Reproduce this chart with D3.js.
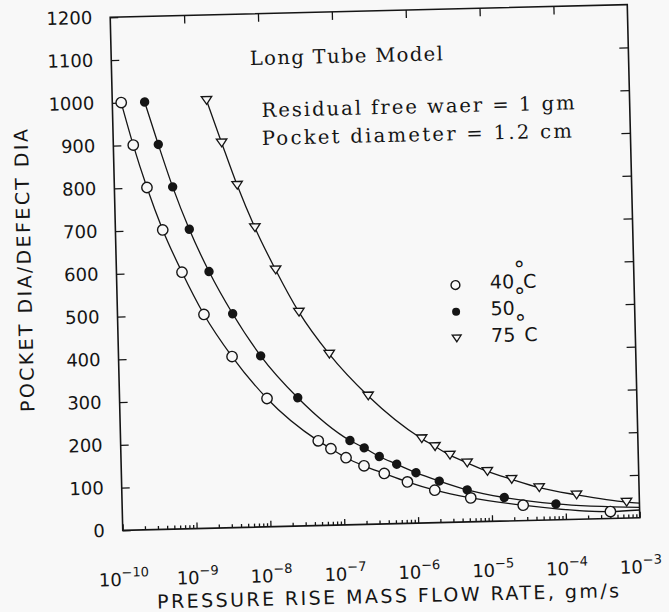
<!DOCTYPE html>
<html><head><meta charset="utf-8">
<script src="https://cdn.jsdelivr.net/npm/d3@7"></script>
<style>html,body{margin:0;padding:0;background:#f8f8f8;} svg{display:block}</style>
</head><body>
<script>
// ---- data ----
const seriesLabels = ["40", "50", "75"];
const flow40  = [1.32e-10,1.86e-10,2.76e-10,4.37e-10,7.71e-10,1.48e-9,3.44e-9,9.9e-9,4.73e-8,6.98e-8,1.11e-7,1.93e-7,3.61e-7,7.38e-7,1.72e-6,5.24e-6,2.67e-5,4.02e-4];
const ratio40 = [1000,900,800,700,600,500,400,300,198,179,157,137,118,97,76,56,36,16];
const flow50  = [2.74e-10,4.06e-10,6.15e-10,1.00e-9,1.79e-9,3.62e-9,8.39e-9,2.58e-8,1.27e-7,1.97e-7,3.13e-7,5.35e-7,9.68e-7,1.99e-6,4.72e-6,1.49e-5,7.41e-5];
const ratio50 = [1000,900,800,700,600,500,400,300,197,179,158,139,118,97,75,55,37];
const flow75  = [1.89e-9,2.93e-9,4.60e-9,7.74e-9,1.43e-8,2.86e-8,7.13e-8,2.32e-7,1.19e-6,1.79e-6,2.83e-6,4.82e-6,8.99e-6,1.90e-5,4.46e-5,1.42e-4,6.71e-4];
const ratio75 = [1000,900,800,700,600,500,400,300,197,178,157,138,117,97,76,57,37];
const lineEndFlow = 1e-3;
const lineEndRatio = [18, 24, 34];
const yTickValues = [0,100,200,300,400,500,600,700,800,900,1000,1100,1200];
const xTickExponents = [-10,-9,-8,-7,-6,-5,-4,-3];
const xTitle = "PRESSURE RISE MASS FLOW RATE, gm/s";
const yTitle = "POCKET DIA/DEFECT DIA";
const notes = ["Long Tube Model", "Residual free waer = 1 gm", "Pocket diameter = 1.2 cm"];

// ---- layout ----
const W = 669, H = 612, BG = "#f8f8f8", INK = "#151515";
const L = 116.4, R = 633.6, T = 10.9, B = 524.1;
const svg = d3.select("body").append("svg").attr("width", W).attr("height", H);
svg.append("rect").attr("width", W).attr("height", H).attr("fill", BG);
const g = svg.append("g").attr("transform", "rotate(-1.4,375,267.5)");

const x = d3.scaleLog().domain([1e-10, 1e-3]).range([L, R]);
const y = d3.scaleLinear().domain([0, 1200]).range([B, T]);

const sans = "'DejaVu Sans', sans-serif";

// axes
const yAxisL = g.append("g").attr("transform", `translate(${L},0)`)
  .call(d3.axisLeft(y).tickValues(yTickValues).tickSize(-8).tickPadding(18).tickFormat(d3.format("d")));
yAxisL.selectAll("text").attr("font-family", sans).attr("font-size", 18).attr("fill", INK);
const yAxisR = g.append("g").attr("transform", `translate(${R},0)`)
  .call(d3.axisRight(y).tickValues(yTickValues.slice(1, -1)).tickSize(-9).tickFormat(""));
const decades = xTickExponents.map(e => Math.pow(10, e));
const minors = [];
for (let e = -10; e < -3; e++) for (let m = 2; m <= 9; m++) minors.push(m * Math.pow(10, e));
const xAxisB = g.append("g").attr("transform", `translate(0,${B})`)
  .call(d3.axisBottom(x).tickValues(decades).tickSize(-6).tickFormat(""));
const xAxisBm = g.append("g").attr("transform", `translate(0,${B})`)
  .call(d3.axisBottom(x).tickValues(minors).tickSize(-3.5).tickFormat(""));
const xAxisT = g.append("g").attr("transform", `translate(0,${T})`)
  .call(d3.axisTop(x).tickValues(decades.slice(1, -1)).tickSize(-8).tickFormat(""));
g.selectAll(".domain").remove();
g.selectAll(".tick line").attr("stroke", INK).attr("stroke-width", 1.3);

// frame
g.append("rect").attr("x", L).attr("y", T).attr("width", R - L).attr("height", B - T)
  .attr("fill", "none").attr("stroke", INK).attr("stroke-width", 1.6);

// x tick labels with superscripts
const xl = g.append("g").selectAll("text").data(xTickExponents).join("text")
  .attr("x", d => x(Math.pow(10, d))).attr("y", B + 55.5)
  .attr("text-anchor", "middle").attr("font-family", sans).attr("font-size", 18).attr("fill", INK);
xl.append("tspan").text("10");
xl.append("tspan").attr("dy", -9).attr("font-size", 13).text(d => "\u2212" + Math.abs(d));

// titles
g.append("text").attr("x", 380).attr("y", 603).attr("text-anchor", "middle")
  .attr("font-family", sans).attr("font-size", 19).attr("fill", INK)
  .attr("textLength", 462).attr("lengthAdjust", "spacing").text(xTitle);
g.append("text").attr("transform", "translate(31,262) rotate(-90)").attr("text-anchor", "middle")
  .attr("font-family", sans).attr("font-size", 19).attr("fill", INK)
  .attr("textLength", 283).attr("lengthAdjust", "spacing").text(yTitle);

// annotations
const serif = "'DejaVu Serif', serif";
const notePos = [[255, 62, 193], [265.5, 114.3, 313], [265, 142.3, 310]];
g.append("g").selectAll("text").data(notes).join("text")
  .attr("x", (d, i) => notePos[i][0]).attr("y", (d, i) => notePos[i][1])
  .attr("font-family", serif).attr("font-size", 19.5).attr("fill", INK)
  .attr("textLength", (d, i) => notePos[i][2]).attr("lengthAdjust", "spacing").text(d => d);

// series
const series = [
  { flow: flow40, ratio: ratio40, end: lineEndRatio[0], kind: "open" },
  { flow: flow50, ratio: ratio50, end: lineEndRatio[1], kind: "filled" },
  { flow: flow75, ratio: ratio75, end: lineEndRatio[2], kind: "tri" }
];
const line = d3.line().x(d => x(d[0])).y(d => y(d[1])).curve(d3.curveMonotoneX);
series.forEach(s => {
  const pts = s.flow.map((f, i) => [f, s.ratio[i]]);
  pts.push([lineEndFlow, s.end]);
  g.append("path").attr("d", line(pts)).attr("fill", "none").attr("stroke", INK).attr("stroke-width", 1.3);
});
const triPath = (w, h) => `M${-w/2},${-h/2}L${w/2},${-h/2}L0,${h/2}Z`;
function marker(sel, kind, scale) {
  if (kind === "open") sel.append("circle").attr("r", 5.2 * scale).attr("fill", BG).attr("stroke", INK).attr("stroke-width", 1.4);
  else if (kind === "filled") sel.append("circle").attr("r", 4.7 * scale).attr("fill", INK);
  else sel.append("path").attr("d", triPath(10.5 * scale, 7.8 * scale)).attr("fill", BG).attr("stroke", INK).attr("stroke-width", 1.3);
}
series.forEach(s => {
  s.flow.forEach((f, i) => {
    const m = g.append("g").attr("transform", `translate(${x(f)},${y(s.ratio[i])})`);
    marker(m, s.kind, 1);
  });
});

// legend
const legendRows = [
  { kind: "open", label: seriesLabels[0], unit: true },
  { kind: "filled", label: seriesLabels[1], unit: false },
  { kind: "tri", label: seriesLabels[2], unit: true }
];
legendRows.forEach((r, i) => {
  const yy = 287 + i * 26.7;
  const m = g.append("g").attr("transform", `translate(455,${yy})`);
  marker(m, r.kind, 0.85);
  const t = g.append("text").attr("x", 489.5).attr("y", yy + 4.5)
    .attr("font-family", sans).attr("font-size", 19).attr("fill", INK);
  t.append("tspan").text(r.label);
  t.append("tspan").attr("dy", -11).attr("dx", 0).attr("font-size", 22).text("\u00B0");
  if (r.unit) t.append("tspan").attr("dy", 11).attr("dx", -2).text("C");
});
</script>
</body></html>
